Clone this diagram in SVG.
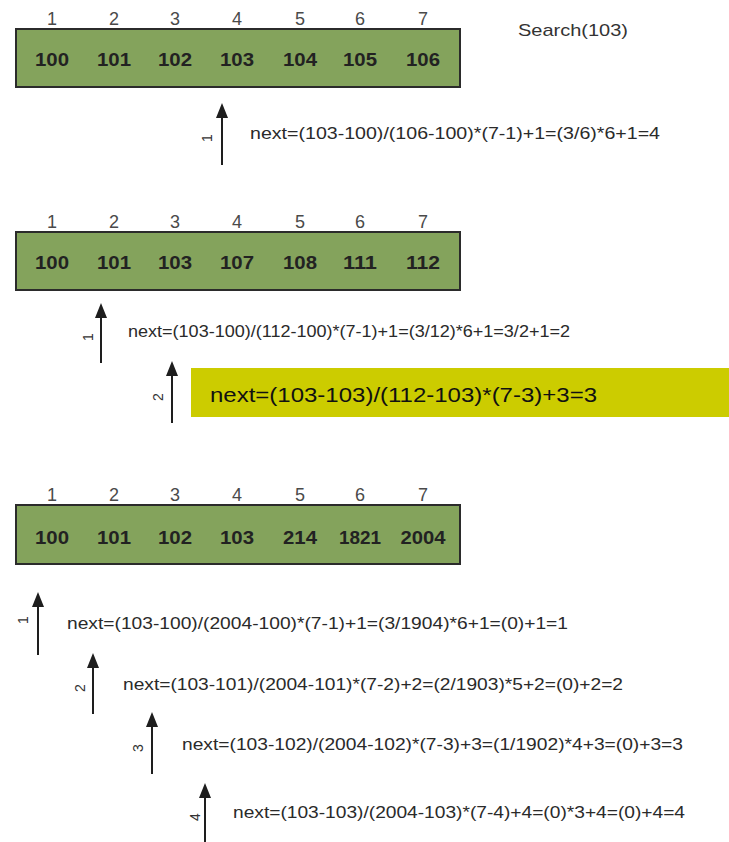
<svg xmlns="http://www.w3.org/2000/svg" width="729" height="842" viewBox="0 0 729 842">
  <style>
    .arr { fill: #84a35c; stroke: #2b2b2b; stroke-width: 2; }
    .idx { font-family: "Liberation Sans", Arial, sans-serif; font-size: 18px; fill: #4a4a4a; text-anchor: middle; }
    .val { font-family: "Liberation Sans", Arial, sans-serif; font-size: 18px; font-weight: bold; fill: #222; text-anchor: middle; }
    .eq { font-family: "Liberation Sans", Arial, sans-serif; font-size: 17px; fill: #2a2a2a; }
    .step { font-family: "Liberation Sans", Arial, sans-serif; font-size: 14px; fill: #333; text-anchor: middle; dominant-baseline: central; }
    .ptr { stroke: #1e1e1e; stroke-width: 2; fill: none; }
    .head { fill: #1e1e1e; }
    .title { font-family: "Liberation Sans", Arial, sans-serif; font-size: 17px; fill: #333; }
  </style>

  <!-- Title -->
  <text class="title" x="518" y="36" textLength="110" lengthAdjust="spacingAndGlyphs">Search(103)</text>

  <!-- Array 1 -->
  <g id="array1">
    <rect class="arr" x="16" y="29" width="444" height="58"/>
    <g class="idx">
      <text x="52" y="25">1</text><text x="114" y="25">2</text><text x="175" y="25">3</text><text x="237" y="25">4</text><text x="300" y="25">5</text><text x="360" y="25">6</text><text x="423" y="25">7</text>
    </g>
    <g class="val">
      <text x="52" y="66" textLength="34" lengthAdjust="spacingAndGlyphs">100</text>
      <text x="114" y="66" textLength="34" lengthAdjust="spacingAndGlyphs">101</text>
      <text x="175" y="66" textLength="34" lengthAdjust="spacingAndGlyphs">102</text>
      <text x="237" y="66" textLength="34" lengthAdjust="spacingAndGlyphs">103</text>
      <text x="300" y="66" textLength="34" lengthAdjust="spacingAndGlyphs">104</text>
      <text x="360" y="66" textLength="34" lengthAdjust="spacingAndGlyphs">105</text>
      <text x="423" y="66" textLength="34" lengthAdjust="spacingAndGlyphs">106</text>
    </g>
  </g>

  <!-- Array 2 -->
  <g id="array2">
    <rect class="arr" x="16" y="232" width="444" height="58"/>
    <g class="idx">
      <text x="52" y="228">1</text><text x="114" y="228">2</text><text x="175" y="228">3</text><text x="237" y="228">4</text><text x="300" y="228">5</text><text x="360" y="228">6</text><text x="423" y="228">7</text>
    </g>
    <g class="val">
      <text x="52" y="269" textLength="34" lengthAdjust="spacingAndGlyphs">100</text>
      <text x="114" y="269" textLength="34" lengthAdjust="spacingAndGlyphs">101</text>
      <text x="175" y="269" textLength="34" lengthAdjust="spacingAndGlyphs">103</text>
      <text x="237" y="269" textLength="34" lengthAdjust="spacingAndGlyphs">107</text>
      <text x="300" y="269" textLength="34" lengthAdjust="spacingAndGlyphs">108</text>
      <text x="360" y="269" textLength="34" lengthAdjust="spacingAndGlyphs">111</text>
      <text x="423" y="269" textLength="34" lengthAdjust="spacingAndGlyphs">112</text>
    </g>
  </g>

  <!-- Array 3 -->
  <g id="array3">
    <rect class="arr" x="16" y="505" width="444" height="59"/>
    <g class="idx">
      <text x="52" y="501">1</text><text x="114" y="501">2</text><text x="175" y="501">3</text><text x="237" y="501">4</text><text x="300" y="501">5</text><text x="360" y="501">6</text><text x="423" y="501">7</text>
    </g>
    <g class="val">
      <text x="52" y="544" textLength="34" lengthAdjust="spacingAndGlyphs">100</text>
      <text x="114" y="544" textLength="34" lengthAdjust="spacingAndGlyphs">101</text>
      <text x="175" y="544" textLength="34" lengthAdjust="spacingAndGlyphs">102</text>
      <text x="237" y="544" textLength="34" lengthAdjust="spacingAndGlyphs">103</text>
      <text x="300" y="544" textLength="34" lengthAdjust="spacingAndGlyphs">214</text>
      <text x="360" y="544" textLength="42" lengthAdjust="spacingAndGlyphs">1821</text>
      <text x="423" y="544" textLength="45" lengthAdjust="spacingAndGlyphs">2004</text>
    </g>
  </g>

  <!-- Probe pointers -->
  <g id="connectors">
    <line class="ptr" x1="222" y1="114" x2="222" y2="165"/><path class="head" d="M222,103 L216,118 L228,118 Z"/>
    <line class="ptr" x1="101" y1="314" x2="101" y2="363" stroke="#444"/><path class="head" d="M101,303 L95,318 L107,318 Z"/>
    <line class="ptr" x1="172" y1="372" x2="172" y2="423" stroke="#444"/><path class="head" d="M172,361 L166,376 L178,376 Z"/>
    <line class="ptr" x1="38" y1="603" x2="38" y2="655"/><path class="head" d="M38,592 L32,607 L44,607 Z"/>
    <line class="ptr" x1="93" y1="664" x2="93" y2="714" stroke="#444"/><path class="head" d="M93,653 L87,668 L99,668 Z"/>
    <line class="ptr" x1="152" y1="723" x2="152" y2="774"/><path class="head" d="M152,712 L146,727 L158,727 Z"/>
    <line class="ptr" x1="205" y1="794" x2="205" y2="842" stroke="#444"/><path class="head" d="M205,783 L199,798 L211,798 Z"/>
  </g>

  <!-- Step numbers -->
  <g id="steps">
    <text class="step" transform="translate(207,138) rotate(-90)">1</text>
    <text class="step" transform="translate(88,337) rotate(-90)">1</text>
    <text class="step" transform="translate(158,397) rotate(-90)">2</text>
    <text class="step" transform="translate(23,620) rotate(-90)">1</text>
    <text class="step" transform="translate(80,688) rotate(-90)">2</text>
    <text class="step" transform="translate(138,748) rotate(-90)">3</text>
    <text class="step" transform="translate(195,817) rotate(-90)">4</text>
  </g>

  <!-- Formulas -->
  <g id="formula-a1">
    <text class="eq" x="250" y="139" textLength="410" lengthAdjust="spacingAndGlyphs">next=(103-100)/(106-100)*(7-1)+1=(3/6)*6+1=4</text>
  </g>
  <g id="formula-b1">
    <text class="eq" x="128" y="337" textLength="442" lengthAdjust="spacingAndGlyphs" font-size="16">next=(103-100)/(112-100)*(7-1)+1=(3/12)*6+1=3/2+1=2</text>
  </g>
  <g id="formula-b2">
    <rect x="191" y="368" width="538" height="49" fill="#cccc00"/>
    <text x="210" y="402" font-family="Liberation Sans, Arial, sans-serif" font-size="21" fill="#111" textLength="387" lengthAdjust="spacingAndGlyphs">next=(103-103)/(112-103)*(7-3)+3=3</text>
  </g>
  <g id="formula-c1">
    <text class="eq" x="67" y="629" textLength="501" lengthAdjust="spacingAndGlyphs">next=(103-100)/(2004-100)*(7-1)+1=(3/1904)*6+1=(0)+1=1</text>
  </g>
  <g id="formula-c2">
    <text class="eq" x="123" y="690" textLength="500" lengthAdjust="spacingAndGlyphs">next=(103-101)/(2004-101)*(7-2)+2=(2/1903)*5+2=(0)+2=2</text>
  </g>
  <g id="formula-c3">
    <text class="eq" x="182" y="750" textLength="501" lengthAdjust="spacingAndGlyphs">next=(103-102)/(2004-102)*(7-3)+3=(1/1902)*4+3=(0)+3=3</text>
  </g>
  <g id="formula-c4">
    <text class="eq" x="233" y="818" textLength="452" lengthAdjust="spacingAndGlyphs">next=(103-103)/(2004-103)*(7-4)+4=(0)*3+4=(0)+4=4</text>
  </g>
</svg>
